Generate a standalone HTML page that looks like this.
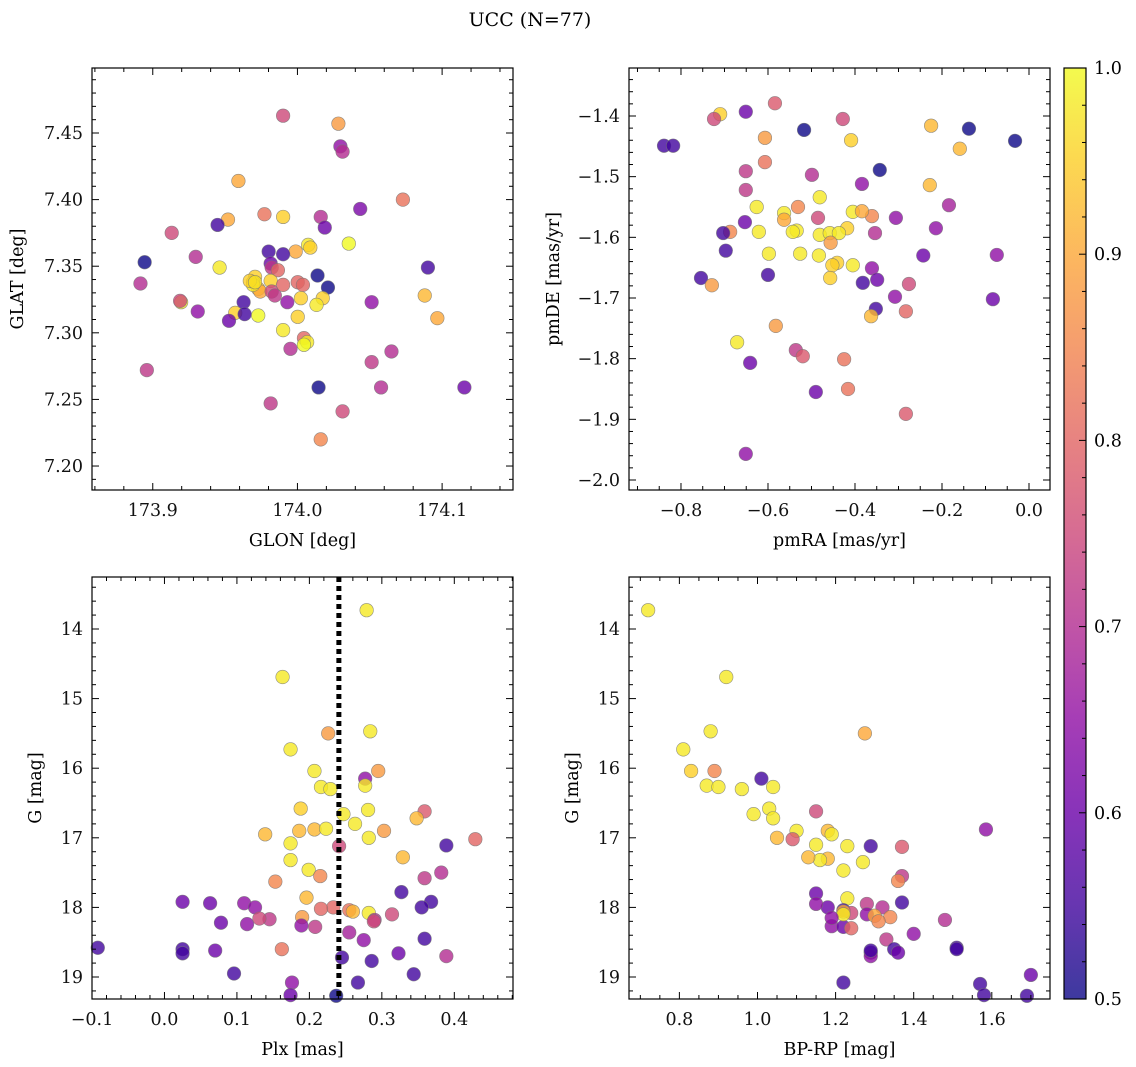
<!DOCTYPE html>
<html><head><meta charset="utf-8"><style>
body{margin:0;background:#fff;}
svg{display:block;font-family:"DejaVu Serif","Liberation Serif",serif;}
</style></head><body>
<svg id="c" width="1136" height="1067" viewBox="0 0 1136 1067" xmlns="http://www.w3.org/2000/svg">
<defs><linearGradient id="cbg" x1="0" y1="1" x2="0" y2="0">
<stop offset="0" stop-color="#0d0887"/><stop offset="0.1" stop-color="#41049d"/><stop offset="0.2" stop-color="#6a00a8"/><stop offset="0.3" stop-color="#8f0da4"/><stop offset="0.4" stop-color="#b12a90"/><stop offset="0.5" stop-color="#cc4778"/><stop offset="0.6" stop-color="#e16462"/><stop offset="0.7" stop-color="#f2844b"/><stop offset="0.8" stop-color="#fca636"/><stop offset="0.9" stop-color="#fcce25"/><stop offset="1" stop-color="#f0f921"/></linearGradient></defs>
<text x="530" y="26" font-size="19" text-anchor="middle">UCC (N=77)</text>
</svg>
<script>
// Panel 1: GLON/GLAT
const p1Lon=[173.9901,174.0283,174.0297,174.0312,173.9592,174.0729,174.0434,173.9772,173.9901,173.952,174.0161,173.9448,174.0189,173.9131,174.0355,174.0074,174.0089,173.9801,173.9988,173.9901,173.9297,173.8944,173.9815,173.9822,173.9462,174.0902,174.0139,173.9865,173.9707,173.9693,173.9815,173.9901,174.0002,174.0038,173.9729,173.9743,173.9822,173.9844,174.0211,173.8915,174.088,174.0175,173.9196,173.9189,173.9628,173.993,174.0513,174.0024,174.0132,173.9311,173.957,173.9635,173.9729,174.0002,174.0967,173.9527,173.9901,174.0045,174.0067,174.0045,173.9952,174.065,174.0513,173.8959,174.0146,174.0578,174.1154,173.9815,174.0312,174.0161,173.9693,173.9671,173.9707];
const p1Lat=[7.463,7.457,7.440,7.436,7.414,7.400,7.393,7.389,7.387,7.385,7.387,7.381,7.379,7.375,7.367,7.366,7.364,7.361,7.361,7.359,7.357,7.353,7.352,7.349,7.349,7.349,7.343,7.347,7.342,7.338,7.339,7.336,7.338,7.336,7.333,7.331,7.331,7.328,7.334,7.337,7.328,7.326,7.323,7.324,7.323,7.323,7.323,7.326,7.321,7.316,7.315,7.314,7.313,7.312,7.311,7.309,7.302,7.296,7.293,7.291,7.288,7.286,7.278,7.272,7.259,7.259,7.259,7.247,7.241,7.220,7.336,7.339,7.338];
const p1Prob=[0.75,0.88,0.65,0.7,0.9,0.82,0.62,0.82,0.95,0.9,0.7,0.55,0.6,0.75,1.0,0.98,0.95,0.55,0.9,0.55,0.7,0.5,0.6,0.72,0.98,0.55,0.5,0.8,0.95,1.0,0.95,0.8,0.8,0.8,0.95,0.9,0.75,0.72,0.5,0.7,0.92,0.95,0.98,0.75,0.55,0.65,0.65,0.95,0.98,0.65,0.95,0.55,1.0,0.95,0.9,0.6,0.98,0.8,0.98,1.0,0.7,0.7,0.72,0.72,0.5,0.7,0.6,0.72,0.75,0.85,0.98,0.95,0.97];
// Panel 2: pmRA/pmDE
const p2RA=[-0.584,-0.710,-0.651,-0.724,-0.428,-0.839,-0.818,-0.517,-0.409,-0.138,-0.225,-0.032,-0.607,-0.159,-0.651,-0.607,-0.343,-0.499,-0.384,-0.228,-0.651,-0.481,-0.184,-0.626,-0.531,-0.405,-0.361,-0.384,-0.563,-0.563,-0.653,-0.306,-0.485,-0.418,-0.214,-0.534,-0.543,-0.687,-0.621,-0.703,-0.481,-0.354,-0.458,-0.437,-0.456,-0.697,-0.526,-0.483,-0.598,-0.441,-0.452,-0.405,-0.243,-0.074,-0.600,-0.361,-0.349,-0.754,-0.729,-0.457,-0.382,-0.276,-0.308,-0.352,-0.083,-0.363,-0.283,-0.582,-0.671,-0.536,-0.520,-0.425,-0.641,-0.416,-0.490,-0.283,-0.651];
const p2DE=[-1.379,-1.397,-1.393,-1.405,-1.405,-1.449,-1.449,-1.423,-1.440,-1.421,-1.416,-1.441,-1.436,-1.454,-1.491,-1.476,-1.489,-1.497,-1.512,-1.514,-1.522,-1.534,-1.547,-1.550,-1.550,-1.558,-1.565,-1.557,-1.560,-1.571,-1.575,-1.568,-1.568,-1.585,-1.585,-1.589,-1.591,-1.591,-1.591,-1.593,-1.596,-1.593,-1.593,-1.593,-1.609,-1.622,-1.627,-1.630,-1.627,-1.642,-1.646,-1.646,-1.630,-1.629,-1.662,-1.651,-1.670,-1.667,-1.679,-1.667,-1.675,-1.677,-1.698,-1.718,-1.702,-1.730,-1.722,-1.746,-1.773,-1.786,-1.796,-1.801,-1.807,-1.850,-1.855,-1.891,-1.957];
const p2Prob=[0.78,0.95,0.6,0.75,0.75,0.55,0.55,0.5,0.95,0.5,0.92,0.5,0.88,0.92,0.72,0.82,0.5,0.7,0.65,0.92,0.72,0.98,0.68,0.98,0.85,0.98,0.85,0.9,0.98,0.9,0.6,0.65,0.75,0.95,0.65,0.98,0.98,0.85,0.98,0.55,0.98,0.7,0.98,0.98,0.88,0.55,0.98,0.98,0.98,0.95,0.95,0.98,0.6,0.65,0.55,0.65,0.6,0.55,0.88,0.95,0.55,0.75,0.65,0.55,0.6,0.92,0.8,0.88,0.98,0.72,0.78,0.82,0.6,0.82,0.6,0.78,0.65];
// Panel 3: Plx/G
const p3Plx=[-0.092,0.279,0.163,0.284,0.226,0.174,0.295,0.207,0.277,0.216,0.229,0.277,0.188,0.247,0.281,0.359,0.348,0.263,0.139,0.207,0.223,0.303,0.282,0.429,0.389,0.241,0.174,0.329,0.186,0.174,0.199,0.215,0.382,0.359,0.153,0.327,0.196,0.368,0.025,0.063,0.110,0.125,0.355,0.233,0.255,0.260,0.282,0.314,0.216,0.190,0.078,0.114,0.145,0.131,0.189,0.208,0.290,0.255,0.289,0.162,0.359,0.275,0.025,0.025,0.070,0.323,0.389,0.245,0.286,0.096,0.344,0.176,0.267,0.174,0.237];
const p3G=[18.58,13.73,14.69,15.47,15.50,15.73,16.04,16.04,16.15,16.27,16.30,16.25,16.58,16.66,16.60,16.62,16.72,16.80,16.95,16.88,16.87,16.90,17.00,17.02,17.11,17.12,17.08,17.28,16.90,17.32,17.46,17.55,17.50,17.58,17.63,17.78,17.86,17.92,17.92,17.94,17.94,18.00,18.00,18.00,18.04,18.06,18.08,18.10,18.02,18.14,18.22,18.24,18.17,18.16,18.26,18.28,18.18,18.36,18.20,18.60,18.45,18.47,18.60,18.66,18.62,18.66,18.70,18.72,18.77,18.95,18.96,19.08,19.08,19.26,19.27];
const p3Prob=[0.55,0.98,0.98,0.98,0.88,0.98,0.88,0.98,0.65,0.98,0.98,0.98,0.95,0.98,0.98,0.78,0.92,0.98,0.92,0.92,0.98,0.88,0.98,0.8,0.55,0.75,0.98,0.92,0.92,0.98,0.98,0.85,0.7,0.72,0.85,0.55,0.92,0.55,0.6,0.6,0.65,0.65,0.55,0.8,0.82,0.92,0.98,0.75,0.8,0.88,0.6,0.65,0.72,0.75,0.65,0.72,0.7,0.68,0.75,0.82,0.55,0.65,0.55,0.55,0.6,0.6,0.7,0.55,0.55,0.55,0.55,0.65,0.55,0.6,0.5];
// Panel 4: BP-RP/G
const p4C=[0.72,0.92,0.81,0.88,1.275,0.83,0.89,1.01,0.87,0.90,0.96,1.04,1.03,0.99,1.04,1.15,1.585,1.18,1.19,1.10,1.05,1.09,1.15,1.23,1.29,1.18,1.37,1.16,1.13,1.22,1.27,1.37,1.36,1.23,1.37,1.32,1.34,1.28,1.18,1.22,1.24,1.22,1.28,1.19,1.30,1.22,1.31,1.22,1.24,1.19,1.48,1.33,1.35,1.29,1.29,1.51,1.51,1.40,1.29,1.22,1.57,1.58,1.69,1.70,1.36,1.15,1.15];
const p4G=[13.73,14.69,15.73,15.47,15.50,16.04,16.04,16.15,16.25,16.27,16.30,16.27,16.58,16.66,16.72,16.62,16.88,16.90,16.95,16.90,17.00,17.02,17.10,17.12,17.12,17.30,17.13,17.32,17.28,17.47,17.35,17.55,17.62,17.87,17.93,18.00,18.14,17.95,18.00,18.04,18.08,18.06,18.10,18.27,18.12,18.28,18.20,18.10,18.30,18.15,18.18,18.46,18.60,18.65,18.70,18.58,18.60,18.38,18.62,19.08,19.10,19.26,19.27,18.97,18.65,17.80,17.95];
const p4Prob=[0.98,0.98,0.98,0.98,0.9,0.95,0.85,0.55,0.98,0.98,0.98,0.98,0.98,0.98,0.98,0.75,0.65,0.92,0.98,0.98,0.92,0.78,0.98,0.98,0.55,0.92,0.78,0.98,0.92,0.98,0.98,0.72,0.85,0.98,0.55,0.7,0.85,0.72,0.6,0.55,0.75,0.9,0.65,0.65,0.9,0.6,0.85,0.98,0.8,0.65,0.7,0.72,0.55,0.6,0.65,0.55,0.55,0.65,0.55,0.55,0.55,0.55,0.55,0.6,0.6,0.6,0.65];
const plxMedian=0.2407;

const NS="http://www.w3.org/2000/svg";
const svg=document.getElementById('c');
function mk(tag,attrs,parent){const e=document.createElementNS(NS,tag);for(const k in attrs)e.setAttribute(k,attrs[k]);(parent||svg).appendChild(e);return e;}
const stops=[[13,8,135],[65,4,157],[106,0,168],[143,13,164],[177,42,144],[204,71,120],[225,100,98],[242,132,75],[252,166,54],[252,206,37],[240,249,33]];
function plasma(p){let t=Math.max(0,Math.min(1,(p-0.5)/0.5))*10;let i=Math.min(9,Math.floor(t));let f=t-i;const a=stops[i],b=stops[i+1];return 'rgb('+a.map((v,k)=>Math.round(v+(b[k]-v)*f)).join(',')+')';}
function fmt(v,d){let s=v.toFixed(d);if(s.startsWith('-'))s='\u2212'+s.slice(1);if(/^\u2212?0(\.0+)?$/.test(s))s=s.replace('\u2212','');return s;}
const FS=17.5;
function panel(cfg){
  const {name,x0,x1,y0,y1,xmin,xmax,ymin,ymax,invY}=cfg;
  const sx=v=>x0+(v-xmin)/(xmax-xmin)*(x1-x0);
  const sy=v=>invY? y0+(v-ymin)/(ymax-ymin)*(y1-y0) : y1-(v-ymin)/(ymax-ymin)*(y1-y0);
  const g=mk('g',{});
  
  
  const pts=mk('g',{},g);
  
  
  cfg.xs.forEach((xv,i)=>{
    const c=mk('circle',{cx:sx(xv),cy:sy(cfg.ys[i]),r:6.8,fill:plasma(cfg.ps[i]),'fill-opacity':0.8,stroke:'#777','stroke-width':0.6,'stroke-opacity':0.8},pts);
    
    
  });
  if(cfg.vline!==undefined){
    const l=mk('line',{x1:sx(cfg.vline),x2:sx(cfg.vline),y1:y0,y2:y1,stroke:'#000','stroke-width':5,'stroke-dasharray':'5,4'},g);
    
    
  }
  mk('rect',{x:x0,y:y0,width:x1-x0,height:y1-y0,fill:'none',stroke:'#000','stroke-width':1.2},g);
  const ax=mk('g',{stroke:'#000','stroke-width':1},g);
  
  
  const eps=1e-9;
  for(let v=Math.ceil(xmin/cfg.xminor-eps)*cfg.xminor;v<=xmax+eps;v+=cfg.xminor){
    const X=sx(v);const maj=Math.abs(v/cfg.xmajor-Math.round(v/cfg.xmajor))<1e-6;const L=maj?7:4;
    mk('line',{x1:X,x2:X,y1:y1,y2:y1-L},ax);mk('line',{x1:X,x2:X,y1:y0,y2:y0+L},ax);
    if(maj){const t=mk('text',{x:X,y:y1+26,'font-size':FS,'text-anchor':'middle',stroke:'none',fill:'#111'},g);t.textContent=fmt(Math.round(v/cfg.xmajor)*cfg.xmajor,cfg.xd);
      
      }
  }
  for(let v=Math.ceil(ymin/cfg.yminor-eps)*cfg.yminor;v<=ymax+eps;v+=cfg.yminor){
    const Y=sy(v);const maj=Math.abs(v/cfg.ymajor-Math.round(v/cfg.ymajor))<1e-6;const L=maj?7:4;
    mk('line',{x1:x0,x2:x0+L,y1:Y,y2:Y},ax);mk('line',{x1:x1,x2:x1-L,y1:Y,y2:Y},ax);
    if(maj){const t=mk('text',{x:x0-9,y:Y+6,'font-size':FS,'text-anchor':'end',stroke:'none',fill:'#111'},g);t.textContent=fmt(Math.round(v/cfg.ymajor)*cfg.ymajor,cfg.yd);
      
      }
  }
  const xt=mk('text',{x:(x0+x1)/2,y:y1+56,'font-size':FS,'text-anchor':'middle'},g);xt.textContent=cfg.xlabel;
  
  
  const yt=mk('text',{x:cfg.ylx,y:(y0+y1)/2,'font-size':FS,'text-anchor':'middle',transform:`rotate(-90 ${cfg.ylx} ${(y0+y1)/2})`},g);yt.textContent=cfg.ylabel;
  
  
}
panel({name:'glon-glat-panel',x0:92,x1:513,y0:68,y1:490,xmin:173.858,xmax:174.149,ymin:7.182,ymax:7.4988,xs:p1Lon,ys:p1Lat,ps:p1Prob,xmajor:0.1,xminor:0.02,ymajor:0.05,yminor:0.01,xd:1,yd:2,xlabel:'GLON [deg]',ylabel:'GLAT [deg]',ylx:23});
panel({name:'pm-panel',x0:629,x1:1050,y0:68,y1:490,xmin:-0.9195,xmax:0.0483,ymin:-2.0165,ymax:-1.3209,xs:p2RA,ys:p2DE,ps:p2Prob,xmajor:0.2,xminor:0.05,ymajor:0.1,yminor:0.02,xd:1,yd:1,xlabel:'pmRA [mas/yr]',ylabel:'pmDE [mas/yr]',ylx:559});
panel({name:'plx-g-panel',x0:92,x1:513,y0:577,y1:999,xmin:-0.1,xmax:0.481,ymin:13.253,ymax:19.316,invY:true,xs:p3Plx,ys:p3G,ps:p3Prob,xmajor:0.1,xminor:0.02,ymajor:1,yminor:0.2,xd:1,yd:0,xlabel:'Plx [mas]',ylabel:'G [mag]',ylx:41,vline:plxMedian});
panel({name:'cmd-panel',x0:629,x1:1050,y0:577,y1:999,xmin:0.671,xmax:1.749,ymin:13.253,ymax:19.316,invY:true,xs:p4C,ys:p4G,ps:p4Prob,xmajor:0.2,xminor:0.05,ymajor:1,yminor:0.2,xd:1,yd:0,xlabel:'BP-RP [mag]',ylabel:'G [mag]',ylx:578});
// colorbar
const cb=mk('g',{});


mk('rect',{x:1064,y:68,width:22,height:931,fill:'#fff'},cb);
mk('rect',{x:1064,y:68,width:22,height:931,fill:'url(#cbg)','fill-opacity':0.8},cb);
mk('rect',{x:1064,y:68,width:22,height:931,fill:'none',stroke:'#000','stroke-width':1.2},cb);
for(let i=0;i<=25;i++){const v=0.5+i*0.02;const Y=999-(v-0.5)/0.5*931;const maj=i%5===0;
  mk('line',{x1:1086,x2:1086-(maj?7:4),y1:Y,y2:Y,stroke:'#000','stroke-width':1},cb);
  if(maj){const t=mk('text',{x:1094,y:Y+6,'font-size':FS},cb);t.textContent=v.toFixed(1);
    
    }}
</script>
</body></html>
